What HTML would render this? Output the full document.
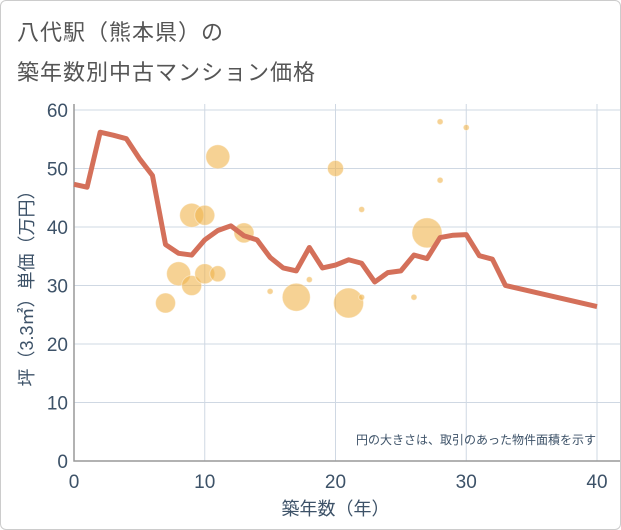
<!DOCTYPE html>
<html><head><meta charset="utf-8"><style>
body{margin:0;background:#fff;font-family:"Liberation Sans","Noto Sans CJK JP",sans-serif}
#wrap{position:relative;width:619px;height:528px;border:1px solid #ccc;border-radius:6px;overflow:hidden}
.t{position:absolute;left:16px;font-size:22px;color:#555;letter-spacing:1px}
</style></head><body>
<div id="wrap">
<div class="t" style="top:14px">八代駅（熊本県）の</div>
<div class="t" style="top:54px">築年数別中古マンション価格</div>
<svg id="svg" width="621" height="530" style="position:absolute;left:0;top:0"></svg>
</div>
<script>
const lineX=[0,1,2,3,4,5,6,7,8,9,10,11,12,13,14,15,16,17,18,19,20,21,22,23,24,25,26,27,28,29,30,31,32,33,40];
const lineY=[47.3,46.8,56.2,55.7,55.1,51.7,48.8,37,35.5,35.2,37.8,39.4,40.2,38.5,37.8,34.8,33,32.5,36.5,33,33.5,34.4,33.8,30.6,32.2,32.5,35.2,34.6,38.2,38.6,38.7,35.1,34.5,30,26.4];
const bubX=[7,8,9,9,10,10,11,11,13,15,17,18,20,21,22,22,26,27,28,28,30];
const bubY=[27,32,30,42,42,32,32,52,39,29,28,31,50,27,43,28,28,39,58,48,57];
const bubR=[10,12,10,12,10,10,8,12,10,3,14,3,8,15,3,3,3,15,3,3,3];
const xTicks=[0,10,20,30,40];
const yTicks=[0,10,20,30,40,50,60];
const X0=73,X1=596,Y0=460,Y1=109;
const sx=v=>X0+(X1-X0)*v/40, sy=v=>Y0-(Y0-Y1)*v/60;
const svg=document.getElementById('svg');const NS='http://www.w3.org/2000/svg';
function mk(t,a){const e=document.createElementNS(NS,t);for(const k in a)e.setAttribute(k,a[k]);svg.appendChild(e);return e;}
for(const v of xTicks){const g=mk('line',{x1:sx(v),x2:sx(v),y1:103,y2:Y0,stroke:'#cfd8e3','stroke-width':1});


const t=mk('text',{x:sx(v),y:487,'text-anchor':'middle','font-size':19,fill:'#3d5268'});t.textContent=v;

}
for(const v of yTicks){const g=mk('line',{x1:X0,x2:X1+24,y1:sy(v),y2:sy(v),stroke:'#cfd8e3','stroke-width':1});


const t=mk('text',{x:67,y:sy(v)+7,'text-anchor':'end','font-size':19,fill:'#3d5268'});t.textContent=v;

}
const ax=mk('path',{d:`M${X0} 103V${Y0}H620`,fill:'none',stroke:'#999','stroke-width':1.5});


for(let i=0;i<bubX.length;i++){const c=mk('circle',{cx:sx(bubX[i]),cy:sy(bubY[i]),r:bubR[i],fill:'#f0b44c','fill-opacity':0.6,stroke:'#fff','stroke-opacity':0.4});

}
const p=mk('polyline',{points:lineX.map((x,i)=>sx(x)+','+sy(lineY[i])).join(' '),fill:'none',stroke:'#d4705a','stroke-width':5,'stroke-linejoin':'round'});


const n=mk('text',{x:595,y:443,'text-anchor':'end','font-size':12,fill:'#3d5268'});n.textContent='円の大きさは、取引のあった物件面積を示す';


const xt=mk('text',{x:sx(20),y:514,'text-anchor':'middle','font-size':18,fill:'#3d5268'});xt.textContent='築年数（年）';


const yt=mk('text',{x:0,y:0,'text-anchor':'middle','font-size':18,fill:'#3d5268',transform:'translate(32,283) rotate(-90)'});yt.textContent='坪（3.3㎡）単価（万円）';


</script>
</body></html>
